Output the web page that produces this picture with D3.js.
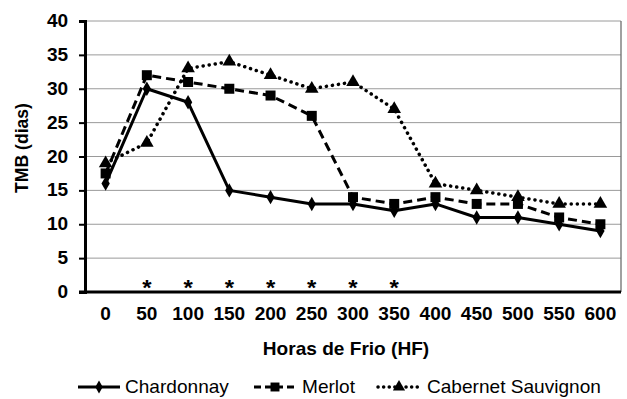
<!DOCTYPE html>
<html><head><meta charset="utf-8">
<script src="https://cdn.jsdelivr.net/npm/d3@7"></script>
<style>body{margin:0;background:#fff}svg{display:block;font-family:"Liberation Sans",Arial,sans-serif}</style>
</head><body>
<script>
const categories = ["0","50","100","150","200","250","300","350","400","450","500","550","600"];
const chardonnay = [16,30,28,15,14,13,13,12,13,11,11,10,9];
const merlot = [17.5,32,31,30,29,26,14,13,14,13,13,11,10];
const cabernet = [19,22,33,34,32,30,31,27,16,15,14,13,13];
const yTicks = [0,5,10,15,20,25,30,35,40];
const starred = ["50","100","150","200","250","300","350"];
const seriesNames = ["Chardonnay","Merlot","Cabernet Sauvignon"];

const W=627,H=399, FS=17.5, SX=1.09;
const svg=d3.select("body").append("svg").attr("width",W).attr("height",H);
const L=85,R=621,T=21,B=292;
const x=d3.scaleBand().domain(categories).range([L,R]);
const y=d3.scaleLinear().domain([0,40]).range([B,T]);
const cx=c=>x(c)+x.bandwidth()/2;

// helper: horizontally stretched text at (px,py)
function stext(px,py,str,opts={}){
  const g=svg.append("g").attr("transform",`translate(${px},${py}) scale(${SX},1)`);
  return g.append("text").attr("text-anchor",opts.anchor||"start")
   .attr("font-size",opts.size||FS).attr("font-weight",opts.bold?"bold":null).text(str);
}

// grid
svg.append("g").selectAll("line").data(yTicks.filter(d=>d>0)).join("line")
 .attr("x1",L).attr("x2",R).attr("y1",d=>y(d)).attr("y2",d=>y(d))
 .attr("stroke","#9a9a9a").attr("stroke-width",1);
svg.append("line").attr("x1",R).attr("x2",R).attr("y1",T).attr("y2",B).attr("stroke","#6e6e6e").attr("stroke-width",1.3);

// y axis
const ya=svg.append("g").attr("transform",`translate(${L},0)`)
 .call(d3.axisLeft(y).tickValues(yTicks).tickSize(6).tickPadding(9.5));
ya.select(".domain").attr("stroke","#000").attr("stroke-width",3);
ya.selectAll(".tick line").attr("stroke","#000").attr("stroke-width",2);
ya.selectAll("text").attr("font-size",FS).attr("font-weight","bold").attr("fill","#000")
 .attr("font-family","Liberation Sans, Arial, sans-serif").attr("transform",`scale(${SX},1)`);

// x axis
const xa=svg.append("g").attr("transform",`translate(0,${B})`)
 .call(d3.axisBottom(x).tickSize(0).tickPadding(16));
xa.select(".domain").remove();
xa.selectAll("text").attr("font-size",FS).attr("font-weight","bold").attr("fill","#000")
 .attr("font-family","Liberation Sans, Arial, sans-serif").attr("transform",`scale(${SX},1)`);
svg.append("line").attr("x1",L-6).attr("x2",R).attr("y1",B).attr("y2",B).attr("stroke","#000").attr("stroke-width",3);

// asterisks
starred.forEach(d=>stext(cx(d),295,"*",{anchor:"middle",bold:true,size:22}));

// titles
stext(346,355,"Horas de Frio (HF)",{anchor:"middle",bold:true});
svg.append("text").attr("transform",`translate(28,148) rotate(-90)`).attr("text-anchor","middle")
 .attr("font-size",17.6).attr("font-weight","bold").text("TMB (dias)");

const line=d3.line().x((d,i)=>cx(categories[i])).y(d=>y(d));
const styles=[
 {data:chardonnay,dash:null,ldash:null,cap:"butt",sym:d3.symbolDiamond,size:60},
 {data:merlot,dash:"9,5",ldash:"7,4",cap:"butt",sym:d3.symbolSquare,size:100},
 {data:cabernet,dash:"0.1,6",ldash:"0.1,5.5",cap:"round",sym:d3.symbolTriangle,size:80}
];
styles.forEach(s=>{
 svg.append("path").datum(s.data).attr("d",line).attr("fill","none").attr("stroke","#000")
  .attr("stroke-width",s.cap==="round"?3.5:3).attr("stroke-dasharray",s.dash).attr("stroke-linecap",s.cap)
  .attr("stroke-linejoin","round");
});
styles.forEach(s=>{
 svg.append("g").selectAll("path").data(s.data).join("path")
  .attr("transform",(d,i)=>`translate(${cx(categories[i])},${y(d)})`)
  .attr("d",d3.symbol().type(s.sym).size(s.size)).attr("fill","#000");
});

// legend
const leg=[{x:78,tx:125},{x:254,tx:302},{x:378,tx:427}];
styles.forEach((s,i)=>{
 const ly=387;
 svg.append("line").attr("x1",leg[i].x).attr("x2",leg[i].x+42).attr("y1",ly).attr("y2",ly)
  .attr("stroke","#000").attr("stroke-width",s.cap==="round"?3.5:3).attr("stroke-dasharray",s.ldash)
  .attr("stroke-linecap",s.cap);
 svg.append("path").attr("transform",`translate(${leg[i].x+21},${ly})`)
  .attr("d",d3.symbol().type(s.sym).size(s.size*0.8)).attr("fill","#000");
 stext(leg[i].tx,393,seriesNames[i]);
});
</script>
</body></html>
